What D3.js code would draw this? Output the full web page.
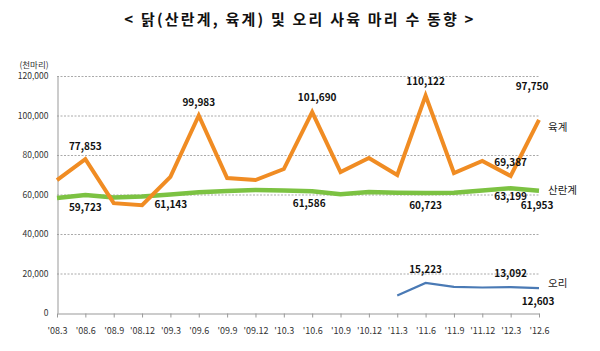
<!DOCTYPE html>
<html>
<head>
<meta charset="utf-8">
<script src="https://cdn.jsdelivr.net/npm/d3@7"></script>
<style>
  body { margin: 0; background: #fff; }
  svg { display: block; font-family: "Noto Sans CJK KR", "Noto Sans", sans-serif; }
</style>
</head>
<body>
<div id="chart"></div>
<script>
// categories (quarter labels)
var periods = ["'08.3", "'08.6", "'08.9", "'08.12", "'09.3", "'09.6", "'09.9", "'09.12", "'10.3",
               "'10.6", "'10.9", "'10.12", "'11.3", "'11.6", "'11.9", "'11.12", "'12.3", "'12.6"];

// 육계 (broilers), thousand head
var broiler = [67300, 77853, 55600, 54600, 68900, 99983, 68300, 67300, 72900,
               101690, 71400, 78500, 69900, 110122, 70900, 77000, 69387, 97750];

// 산란계 (layers)
var layer = [58200, 59723, 58500, 59000, 60000, 61143, 61800, 62300, 62000,
             61586, 60100, 61300, 60900, 60723, 60900, 62000, 63199, 61953];

// 오리 (ducks), only from '11.3
var duck = [null, null, null, null, null, null, null, null, null,
            null, null, null, 8800, 15223, 13200, 12900, 13092, 12603];

var yTicks = [0, 20000, 40000, 60000, 80000, 100000, 120000];

// labelled points: [index, dx, dy]
var labelsBroiler = [[1, 0, -9], [5, 0, -10], [9, 5, -11], [13, 0, -11], [16, 0, -10], [17, -7, -30]];
var labelsLayer = [[1, 0, 16], [5, -28, 16], [9, -3, 16], [13, 0, 16], [16, 0, 12], [17, -2, 18]];
var labelsDuck = [[13, 0, -10], [16, 0, -10], [17, -1, 17]];

var width = 600, height = 351;
var margin = { left: 57, right: 61, top: 76, bottom: 38 };

var svg = d3.select("#chart").append("svg")
    .attr("width", width)
    .attr("height", height);

var x = d3.scalePoint()
    .domain(periods)
    .range([margin.left, width - margin.right]);

var y = d3.scaleLinear()
    .domain([0, 120000])
    .range([height - margin.bottom, margin.top]);

var fmt = d3.format(",");

// title
svg.append("text")
    .attr("x", 300)
    .attr("y", 25)
    .attr("text-anchor", "middle")
    .attr("font-size", 15)
    .attr("font-weight", "bold")
    .attr("letter-spacing", 2.2)
    .attr("fill", "#111")
    .text("< 닭(산란계, 육계) 및 오리 사육 마리 수 동향 >");

// unit
svg.append("text")
    .attr("x", 34)
    .attr("y", 68)
    .attr("text-anchor", "middle")
    .attr("font-size", 8.5)
    .attr("fill", "#333")
    .text("(천마리)");

// grid lines
svg.append("g")
    .selectAll("line")
    .data(yTicks.filter(function (d) { return d > 0; }))
    .enter().append("line")
    .attr("x1", margin.left)
    .attr("x2", width - margin.right)
    .attr("y1", function (d) { return y(d) + 0.5; })
    .attr("y2", function (d) { return y(d) + 0.5; })
    .attr("stroke", "#aaa")
    .attr("stroke-width", 1)
    .attr("stroke-dasharray", "2,1.5");

// y axis
var yAxis = svg.append("g")
    .attr("transform", "translate(" + (margin.left + 0.5) + ",0)")
    .call(d3.axisLeft(y).tickValues(yTicks).tickSize(0).tickPadding(9).tickFormat(fmt));
yAxis.select(".domain").attr("stroke", "#999");
yAxis.selectAll("text")
    .attr("font-size", 8.5)
    .attr("fill", "#333")
    .attr("font-family", "Noto Sans CJK KR, sans-serif");

// x axis
var xAxis = svg.append("g")
    .attr("transform", "translate(0," + (y(0) + 0.5) + ")")
    .call(d3.axisBottom(x).tickSizeInner(4).tickSizeOuter(0).tickPadding(10));
xAxis.select(".domain").attr("stroke", "#999");
xAxis.selectAll(".tick line").attr("stroke", "#999");
xAxis.selectAll("text")
    .attr("font-size", 9)
    .attr("fill", "#333")
    .attr("font-family", "Noto Sans CJK KR, sans-serif");

function drawLine(values, color, w) {
    var line = d3.line()
        .defined(function (d) { return d != null; })
        .x(function (d, i) { return x(periods[i]); })
        .y(function (d) { return y(d); });
    svg.append("path")
        .datum(values)
        .attr("fill", "none")
        .attr("stroke", color)
        .attr("stroke-width", w)
        .attr("stroke-linejoin", "miter")
        .attr("d", line);
}

drawLine(layer, "#7cc242", 4.5);
drawLine(broiler, "#f08c23", 4);
drawLine(duck, "#4a7ab5", 2.2);

function drawLabels(values, list) {
    svg.append("g")
        .selectAll("text")
        .data(list)
        .enter().append("text")
        .attr("x", function (d) { return x(periods[d[0]]) + d[1]; })
        .attr("y", function (d) { return y(values[d[0]]) + d[2]; })
        .attr("text-anchor", "middle")
        .attr("font-size", 10)
        .attr("font-weight", "bold")
        .attr("fill", "#111")
        .text(function (d) { return fmt(values[d[0]]); });
}

drawLabels(broiler, labelsBroiler);
drawLabels(layer, labelsLayer);
drawLabels(duck, labelsDuck);

// series names
var names = [["육계", broiler], ["산란계", layer], ["오리", duck]];
var nameDy = [11, 3, -1];
svg.append("g")
    .selectAll("text")
    .data(names)
    .enter().append("text")
    .attr("x", width - margin.right + 9)
    .attr("y", function (d, i) { return y(d[1][periods.length - 1]) + nameDy[i]; })
    .attr("font-size", 10.5)
    .attr("fill", "#222")
    .text(function (d) { return d[0]; });
</script>
</body>
</html>
